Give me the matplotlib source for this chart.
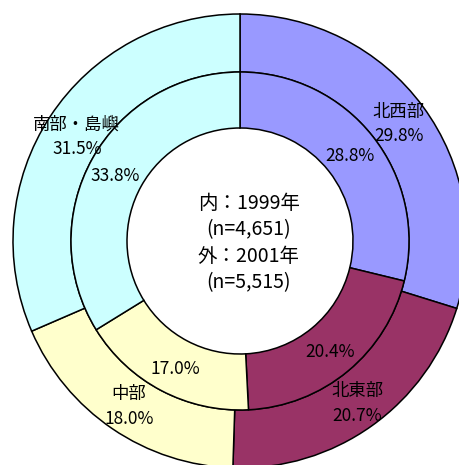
import matplotlib.pyplot as plt

plt.rcParams['font.family'] = ['Noto Sans CJK JP', 'DejaVu Sans']

# Data
regions = ['北西部', '北東部', '中部', '南部・島嶼']
share_1999 = [28.8, 20.4, 17.0, 33.8]   # inner ring
share_2001 = [29.8, 20.7, 18.0, 31.5]   # outer ring
colors = ['#9999FF', '#993366', '#FFFFCC', '#CCFFFF']

center_text = '内：1999年\n(n=4,651)\n外：2001年\n(n=5,515)'


def draw_chart():
    fig = plt.figure(figsize=(4.59, 4.65), dpi=100)
    ax = fig.add_axes([0, 0, 1, 1])

    # pixel-like coordinate system, y goes up
    cx, cy = 240, 465 - 241
    r_out, r_mid, r_in = 227, 169, 113
    edge = dict(edgecolor='black', linewidth=1.1)

    ax.pie(share_2001, colors=colors, radius=r_out, center=(cx, cy),
           startangle=90, counterclock=False, frame=True,
           wedgeprops=dict(width=r_out - r_mid, **edge))
    ax.pie(share_1999, colors=colors, radius=r_mid, center=(cx, cy),
           startangle=90, counterclock=False, frame=True,
           wedgeprops=dict(width=r_mid - r_in, **edge))

    ax.set_xlim(0, 459)
    ax.set_ylim(0, 465)
    ax.set_aspect('equal')
    ax.axis('off')

    # label spots (x, y from top) for outer name / outer pct / inner pct
    name_pos = [(398, 112), (357, 391), (129, 394), (76, 125)]
    outer_pos = [(399, 136), (357, 416), (129, 419), (77, 149)]
    inner_pos = [(350, 156), (330, 352), (175, 369), (115, 176)]

    fs = 12.5
    for i, name in enumerate(regions):
        x, y = name_pos[i]
        ax.text(x, 465 - y, name, ha='center', va='center', fontsize=fs)
        x, y = outer_pos[i]
        ax.text(x, 465 - y, f'{share_2001[i]:.1f}%', ha='center', va='center', fontsize=fs)
        x, y = inner_pos[i]
        ax.text(x, 465 - y, f'{share_1999[i]:.1f}%', ha='center', va='center', fontsize=fs)

    ax.text(249, 465 - 243, center_text, ha='center', va='center',
            fontsize=14, linespacing=1.35)

    fig.savefig('out.png', dpi=100, facecolor='white')


if __name__ == "__main__":
    draw_chart()
